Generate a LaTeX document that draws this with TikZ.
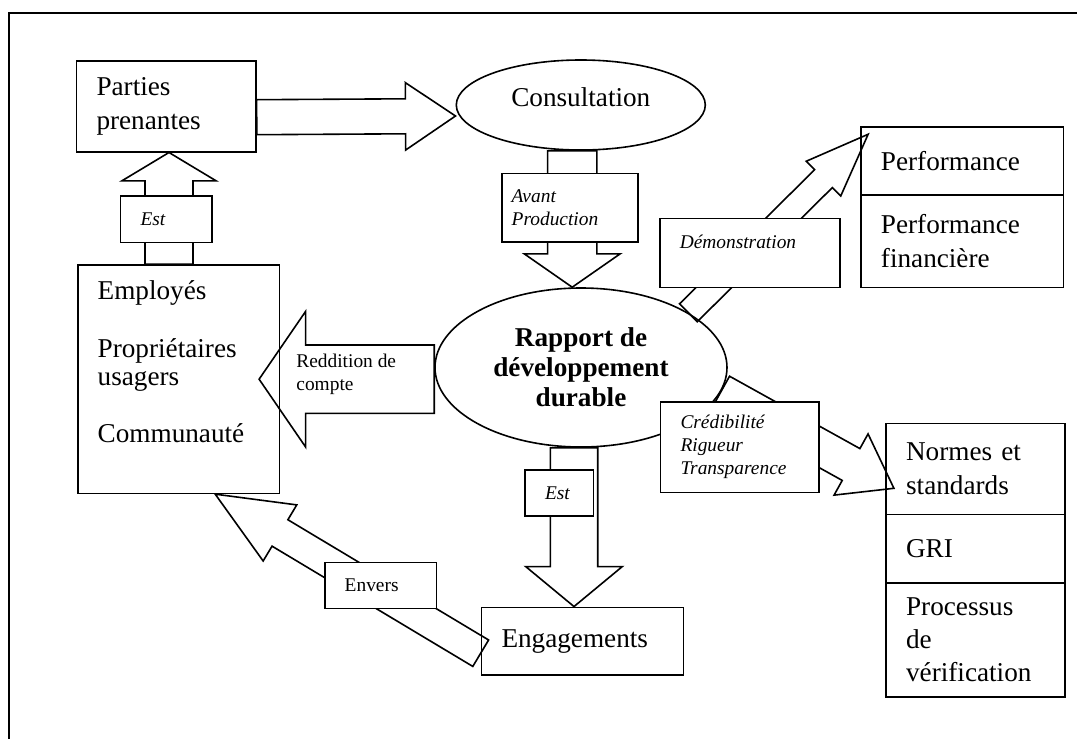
\documentclass[tikz,border=0pt]{standalone}
\usepackage{fontspec}
\setmainfont{Liberation Serif}
\usetikzlibrary{calc,shapes.geometric}

\newcommand{\fatarrow}[6][]{%
  \coordinate (ba-s) at (#2);
  \coordinate (ba-t) at (#3);
  \coordinate (ba-h) at ($(ba-t)!#6!(ba-s)$);
  \draw[fat,#1] ($(ba-s)!#4!90:(ba-t)$) -- ($(ba-h)!#4!90:(ba-t)$) -- ($(ba-h)!#5!90:(ba-t)$)
    -- (ba-t) -- ($(ba-h)!#5!-90:(ba-t)$) -- ($(ba-h)!#4!-90:(ba-t)$) -- ($(ba-s)!#4!-90:(ba-t)$) -- cycle;
}

\begin{document}
\begin{tikzpicture}[x=0.5pt,y=-0.5pt,
  box/.style={draw,line width=0.8pt,inner xsep=10pt,inner ysep=0pt,align=left,font=\fontsize{13.6}{16.7}\selectfont},
  oval/.style={draw,ellipse,line width=0.8pt,inner sep=0pt,align=center},
  tag/.style={draw,fill=white,line width=0.8pt,inner xsep=10pt,inner ysep=0pt,align=left,font=\fontsize{9.7}{11.5}\selectfont\itshape},
  fat/.style={draw,line width=0.8pt,line join=miter}]
\useasboundingbox (0,0) rectangle (1077,739);
\draw[line width=1pt] (8.6,739) -- (8.6,13.3) -- (1077,13.3);

\node (parties)  [box,minimum width=89.7pt,minimum height=45.5pt,text width=69.7pt] at (166.2,106.2) {Parties\\prenantes};
\node (consult)  [oval,minimum width=124.5pt,minimum height=45pt,text depth=7.6pt,font=\fontsize{13.6}{16.7}\selectfont] at (580.8,105) {Consultation};
\node (employes) [box,minimum width=100.9pt,minimum height=114.15pt] at (178.7,379.2) {};
\node (employestxt) [anchor=north west,align=left,inner sep=0pt,font=\fontsize{13.6}{14.3}\selectfont] at ([shift={(10.15pt,-8.2pt)}]employes.north west) {Employés\\[14.3pt]Propriétaires\\usagers\\[14.3pt]Communauté};
\node (rapport)  [oval,fill=white,minimum width=146pt,minimum height=79.5pt,font=\fontsize{13.6}{15}\selectfont\bfseries] at (581,367.5) {Rapport de\\développement\\durable};
\node (engage)   [box,minimum width=100.9pt,minimum height=33.85pt,text width=80.9pt] at (582.4,641.2) {Engagements};
\node (perf1)    [box,minimum width=101.25pt,minimum height=34.15pt,text width=81.25pt] at (962.2,160.9) {Performance};
\node (perf2)    [box,minimum width=101.25pt,minimum height=46.15pt,text width=81.25pt] at (962.2,241.2) {Performance\\financière};
\node (normes1)  [box,minimum width=89.5pt,minimum height=45.5pt,text width=69.5pt] at (975.6,468.8) {Normes et\\standards};
\node (normes2)  [box,minimum width=89.5pt,minimum height=34.2pt,text width=69.5pt] at (975.6,548.5) {GRI};
\node (normes3)  [box,minimum width=89.5pt,minimum height=57pt,text width=69.5pt] at (975.6,639.7) {Processus\\de\\vérification};

\fatarrow{[yshift=-5.5pt]parties.east}{[yshift=-5.5pt]consult.west}{8.75pt}{16.85pt}{25pt}
\coordinate (esttip) at ([xshift=1.4pt]parties.south);
\fatarrow{esttip |- employes.north}{esttip}{12pt}{23.6pt}{14.2pt}
\coordinate (avtail) at ([xshift=-4.3pt]consult.south);
\fatarrow{avtail}{avtail |- rapport.north}{12.3pt}{24pt}{16.7pt}
\coordinate (esttail) at ([xshift=-3.5pt]rapport.south);
\fatarrow{esttail}{esttail |- engage.north}{11.85pt}{24.15pt}{20pt}
\fatarrow{rapport.27}{[shift={(4pt,-4.15pt)}]perf1.north west}{6.3pt}{12.25pt}{31.5pt}
\fatarrow{rapport.-10}{[shift={(4.3pt,-9.75pt)}]normes1.west}{9.1pt}{17.5pt}{24.5pt}
\fatarrow{[yshift=-6pt]engage.west}{[xshift=18.25pt]employes.south}{7.7pt}{16.35pt}{37.75pt}
\fatarrow{rapport.west |- employes.east}{[xshift=-10.65pt]employes.east}{17.1pt}{33.9pt}{23.25pt}

\node (estA)   [tag,minimum width=45.65pt,minimum height=23.35pt,text width=25.65pt] at (166.2,219.3) {Est};
\node (avant)  [tag,inner xsep=5pt,minimum width=68.2pt,minimum height=34.2pt,text width=58.2pt] at (569.9,207.5) {Avant\\Production};
\node (demo)   [tag,minimum width=90.25pt,minimum height=34.5pt,text width=70.25pt] at (750,252.8) {Démonstration\\\mbox{}};
\node (credib) [tag,minimum width=79.2pt,minimum height=45.3pt,text width=59.2pt] at (739.7,447) {Crédibilité\\Rigueur\\Transparence};
\node (estB)   [tag,minimum width=34.15pt,minimum height=23pt,text width=14.15pt] at (559.2,493) {Est};
\node (envers) [tag,font=\fontsize{9.7}{11.5}\selectfont,minimum width=55.8pt,minimum height=23pt,text width=35.8pt] at (380.5,585.3) {Envers};
\node (reddition) [anchor=west,align=left,inner sep=0pt,font=\fontsize{9.7}{11.5}\selectfont] at (296,374) {Reddition de\\compte};
\end{tikzpicture}
\end{document}
